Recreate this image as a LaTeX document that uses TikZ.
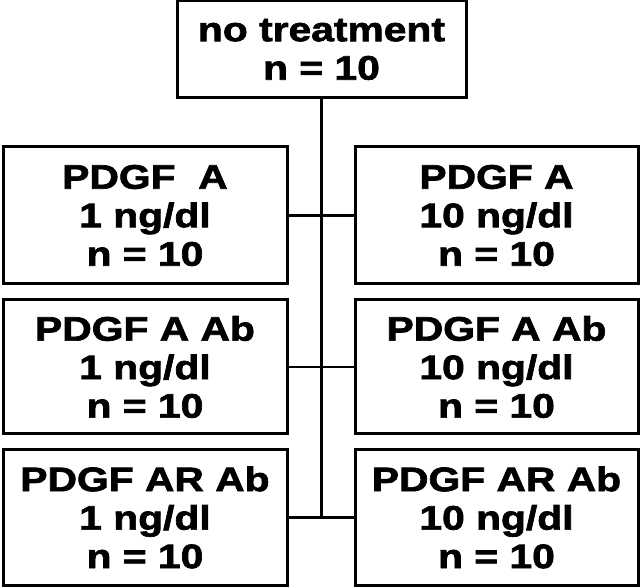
\documentclass[tikz,border=0pt]{standalone}
\usepackage{fontspec}
\newfontfamily\boxfont{Liberation Sans}[FakeStretch=1.2,FakeBold=2]
\begin{document}
\begin{tikzpicture}[x=1pt,y=-1pt,
  box/.style={draw, line width=3pt, rectangle, inner sep=0pt, align=center,
    font=\boxfont\bfseries\fontsize{34}{38.5}\selectfont},
  link/.style={line width=2.3pt}]
\useasboundingbox (0,0) rectangle (641,588);
\node[box, minimum width=289pt, minimum height=97pt] (top) at (321.5,49.5) {no treatment\\n = 10};
\node[box, minimum width=284pt, minimum height=137pt] (l1) at (145,215.5) {PDGF\ \ A\\1 ng/dl\\n = 10};
\node[box, minimum width=283pt, minimum height=137pt] (r1) at (496.5,215.5) {PDGF A\\10 ng/dl\\n = 10};
\node[box, minimum width=284pt, minimum height=134pt] (l2) at (145,367) {PDGF A Ab\\1 ng/dl\\n = 10};
\node[box, minimum width=283pt, minimum height=134pt] (r2) at (496.5,367) {PDGF A Ab\\10 ng/dl\\n = 10};
\node[box, minimum width=284pt, minimum height=135pt] (l3) at (145,517.5) {PDGF AR Ab\\1 ng/dl\\n = 10};
\node[box, minimum width=283pt, minimum height=135pt] (r3) at (496.5,517.5) {PDGF AR Ab\\10 ng/dl\\n = 10};
\draw[link] (top.south) -- (top.south |- l3.east);
\draw[link] (l1.east) -- (r1.west);
\draw[link] (l2.east) -- (r2.west);
\draw[link] (l3.east) -- (r3.west);
\end{tikzpicture}
\end{document}
